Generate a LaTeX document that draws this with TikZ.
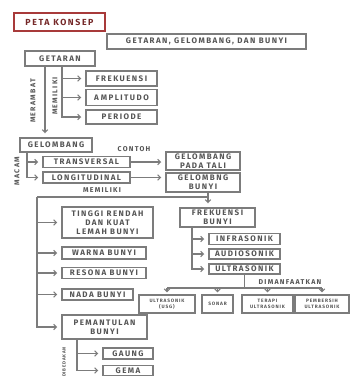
\documentclass[tikz,border=0pt]{standalone}
\usepackage{fontspec}
\setmainfont{Fira Sans}
\newfontfamily\handfont[LetterSpace=18]{Fira Sans}
\usetikzlibrary{arrows.meta}
\usetikzlibrary{positioning}
\definecolor{inkgray}{HTML}{555555}
\definecolor{linegray}{HTML}{7C7C7C}
\definecolor{titlered}{HTML}{A83A3A}
\tikzstyle{box} = [rectangle, draw=linegray, line width=1.5pt, text=inkgray, font=\handfont\bfseries\fontsize{8}{9}\selectfont, align=center, inner sep=1pt, minimum height=14pt]
\tikzstyle{tinybox} = [box, line width=1.2pt, font=\handfont\bfseries\fontsize{4.8}{6.5}\selectfont, minimum height=18pt]
\tikzstyle{linktext} = [text=inkgray, font=\handfont\bfseries\fontsize{7}{7}\selectfont, inner sep=0pt]
\tikzstyle{trunk} = [draw=linegray, line width=1.1pt]
\tikzstyle{link} = [trunk, shorten >=4pt, -{Straight Barb[length=2.8pt,width=5.5pt]}]

\begin{document}
\begin{tikzpicture}[x=1pt, y=-1pt, node distance=4pt]
 \useasboundingbox (0,0) rectangle (350,376);
 \fill[white] (0,0) rectangle (350,376);
 \clip (0,0) rectangle (350,376);

 % judul
 \node (peta) [box, draw=titlered, text=titlered!70!black, minimum width=91pt, minimum height=18pt, font=\handfont\bfseries\fontsize{8.8}{9}\selectfont] at (59.5,22) {PETA KONSEP};
 \node (judul) [box, minimum width=199pt, minimum height=15pt] at (206.5,41.5) {GETARAN, GELOMBANG, DAN BUNYI};

 % getaran
 \node (getaran) [box, minimum width=70pt, minimum height=15pt] at (60,58.5) {GETARAN};
 \node (frek) [box, minimum width=71pt, minimum height=15pt] at (121.5,78.5) {FREKUENSI};
 \node (ampl) [box, minimum width=71pt, minimum height=16pt] at (121.5,97.5) {A\hspace{2pt}MPLITUDO};
 \node (periode) [box, minimum width=71pt, minimum height=14pt] at (121.5,117) {PERIODE};

 % gelombang
 \node (gelombang) [box, minimum width=72pt, minimum height=14pt] at (56,145) {GELOMBANG};
 \node (trans) [box, minimum width=87pt, minimum height=11pt] at (86.5,162) {TRANSVERSAL};
 \node (longi) [box, minimum width=87pt, minimum height=11pt] at (86.5,177.5) {LONGITUDINAL};
 \node (tali) [box, minimum width=74pt, minimum height=18pt] at (203,161) {GELOMBANG\\PADA TALI};
 \node (gbunyi) [box, minimum width=74pt, minimum height=19pt] at (203,182.5) {GELOMBNG\\BUNYI};

 % bunyi
 \node (tinggi) [box, minimum width=91pt, minimum height=31pt] at (107.5,222.5) {TINGGI RENDAH\\DAN KUAT\\LEMAH BUNYI};
 \node (warna) [box, minimum width=84pt, minimum height=12pt] at (104,253) {WARNA BUNYI};
 \node (resona) [box, minimum width=84pt, minimum height=11pt] at (104,273) {RESONA BUNYI};
 \node (nada) [box, minimum width=71pt, minimum height=11pt] at (97.5,294.5) {NADA BUNYI};
 \node (pantul) [box, minimum width=85pt, minimum height=24pt] at (104.5,327) {PEMANTULAN\\BUNYI};
 \node (gaung) [box, minimum width=50pt, minimum height=11pt] at (128,353.5) {GAUNG};
 \node (gema) [box, minimum width=50pt, minimum height=10pt] at (128,370.5) {GEMA};

 \node (frekbunyi) [box, minimum width=75pt, minimum height=19pt] at (217.5,217.5) {FREKUENSI\\BUNYI};
 \node (infra) [box, minimum width=71pt, minimum height=11pt] at (244.5,239) {INFRASONIK};
 \node (audio) [box, minimum width=71pt, minimum height=10pt] at (244.5,254) {AUDIOSONIK};
 \node (ultra) [box, minimum width=71pt, minimum height=10pt] at (244.5,269) {ULTRASONIK};

 \node (usg) [tinybox, minimum width=56pt] at (167,304) {ULTRASONIK\\(USG)};
 \node (sonar) [tinybox, minimum width=31pt] at (217.5,304) {SONAR};
 \node (terapi) [tinybox, minimum width=51pt] at (267.5,304) {TERAPI\\ULTRASONIK};
 \node (pembersih) [tinybox, minimum width=54pt] at (322,304) {PEMBERSIH\\ULTRASONIK};

 % kata penghubung
 \node (merambat) [linktext, rotate=90] at (33,101) {MERAMBAT};
 \node (memiliki) [linktext, rotate=90] at (55,96) {MEMILIKI};
 \node (macam) [linktext, rotate=90] at (17,171) {MACAM};
 \node (contoh) [linktext] at (134,149) {CONTOH};
 \node (memiliki2) [linktext] at (102,190.5) {MEMILIKI};
 \node (dimanfaatkan) [linktext] at (290,282) {DIMANFAATKAN};
 \node (dibedakan) [linktext, rotate=90, font=\handfont\bfseries\fontsize{4.5}{5}\selectfont] at (64,362) {DIBEDAKAN};

 % getaran
 \draw[link] ([xshift=-15pt]getaran.south) -- ([xshift=-11pt]gelombang.north);
 \coordinate (getbranch) at ([xshift=2pt]getaran.south);
 \draw[link] (getbranch) |- (periode.west);
 \foreach \n in {frek,ampl}
  \draw[link] (getbranch |- \n.west) -- (\n.west);

 % gelombang
 \coordinate (macambranch) at ([xshift=-29pt]gelombang.south);
 \draw[link] (macambranch) |- (longi.west);
 \draw[link] (macambranch |- trans.west) -- (trans.west);
 \draw[link] (trans.east) -- (trans.east -| tali.west);
 \draw[link] (longi.east) -- (longi.east -| gbunyi.west);

 % bunyi
 \coordinate (fork) at ([xshift=5pt]gbunyi.south |- 0,197);
 \coordinate (trunktop) at (37,197);
 \draw[trunk] ([xshift=5pt]gbunyi.south) -- (fork) -- (trunktop);
 \draw[link] (fork) -- (fork |- frekbunyi.north);
 \draw[link] (trunktop) |- (pantul.west);
 \foreach \n in {tinggi,warna,resona,nada}
  \draw[link] (trunktop |- \n.west) -- (\n.west);

 \coordinate (fbranch) at ([xshift=-25.5pt]frekbunyi.south);
 \draw[link] (fbranch) |- (ultra.west);
 \foreach \n in {infra,audio}
  \draw[link] (fbranch |- \n.west) -- (\n.west);

 \coordinate (manfaat) at (ultra.south |- 0,288);
 \draw[trunk] (ultra.south) -- (manfaat);
 \draw[trunk] (usg.north |- manfaat) -- (pembersih.north |- manfaat);
 \foreach \n in {usg,sonar,terapi,pembersih}
  \draw[link, shorten >=2pt] (\n.north |- manfaat) -- (\n.north);

 \coordinate (pbranch) at ([xshift=-27.5pt]pantul.south);
 \draw[link] (pbranch) |- (gema.west);
 \draw[link] (pbranch |- gaung.west) -- (gaung.west);
\end{tikzpicture}
\end{document}
